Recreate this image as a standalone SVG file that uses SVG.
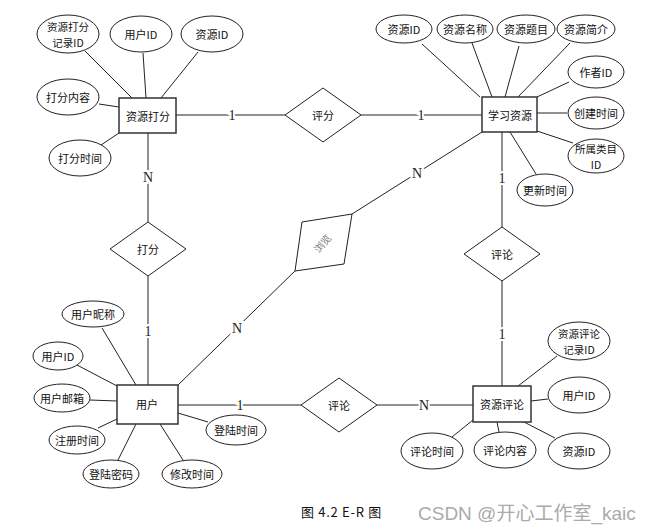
<svg xmlns="http://www.w3.org/2000/svg" width="650" height="532" viewBox="0 0 650 532">
<style>
.bg{fill:#fff}
.ent{fill:#fff;stroke:#333;stroke-width:1.5}
.rel{fill:#fff;stroke:#222;stroke-width:1}
.att{fill:#fff;stroke:#222;stroke-width:1}
.ln{stroke:#222;stroke-width:1;fill:none}
.t{font-family:"Noto Sans CJK SC","Liberation Sans",sans-serif;font-size:11px;fill:#111;text-anchor:middle;dominant-baseline:central}
.t2{font-family:"Noto Sans CJK SC","Liberation Sans",sans-serif;font-size:10.5px;fill:#111;text-anchor:middle;dominant-baseline:central}
.card{font-family:"Liberation Serif",serif;font-size:14px;fill:#222;text-anchor:middle;dominant-baseline:central;paint-order:stroke;stroke:#fff;stroke-width:4}
.cap{font-family:"Noto Sans CJK SC","Liberation Sans",sans-serif;font-size:13px;letter-spacing:0.7px;fill:#111;dominant-baseline:central}
.wm{font-family:"Liberation Sans","Noto Sans CJK SC",sans-serif;font-size:19px;fill:#aaa;dominant-baseline:central}
</style>
<rect class="bg" x="0" y="0" width="650" height="532"/>
<g id="connectors">
<line class="ln" x1="85" y1="51" x2="132" y2="98"/>
<line class="ln" x1="143" y1="53" x2="146" y2="98"/>
<line class="ln" x1="198" y1="52" x2="161" y2="98"/>
<line class="ln" x1="99" y1="104" x2="119" y2="107"/>
<line class="ln" x1="101" y1="145" x2="119" y2="133"/>
<line class="ln" x1="176" y1="115" x2="285" y2="115"/>
<line class="ln" x1="361" y1="115" x2="482" y2="115"/>
<line class="ln" x1="148" y1="133" x2="148" y2="222"/>
<line class="ln" x1="148" y1="276" x2="148" y2="385"/>
<line class="ln" x1="482" y1="132" x2="352" y2="214"/>
<line class="ln" x1="295" y1="271" x2="178" y2="385"/>
<line class="ln" x1="502" y1="132" x2="502" y2="227"/>
<line class="ln" x1="502" y1="281" x2="502" y2="386"/>
<line class="ln" x1="178" y1="405" x2="301" y2="405"/>
<line class="ln" x1="377" y1="405" x2="473" y2="405"/>
<line class="ln" x1="422" y1="44" x2="480" y2="97"/>
<line class="ln" x1="472" y1="43" x2="492" y2="97"/>
<line class="ln" x1="519" y1="46" x2="505" y2="97"/>
<line class="ln" x1="570" y1="43" x2="518" y2="97"/>
<line class="ln" x1="569" y1="82" x2="537" y2="97"/>
<line class="ln" x1="537" y1="113" x2="567" y2="113"/>
<line class="ln" x1="537" y1="131" x2="573" y2="143"/>
<line class="ln" x1="510" y1="132" x2="536" y2="174"/>
<line class="ln" x1="557" y1="356" x2="518" y2="386"/>
<line class="ln" x1="531" y1="401" x2="548" y2="399"/>
<line class="ln" x1="524" y1="422" x2="555" y2="438"/>
<line class="ln" x1="497" y1="422" x2="499" y2="432"/>
<line class="ln" x1="473" y1="420" x2="452" y2="437"/>
<line class="ln" x1="102" y1="328" x2="136" y2="385"/>
<line class="ln" x1="77" y1="365" x2="117" y2="386"/>
<line class="ln" x1="90" y1="400" x2="117" y2="401"/>
<line class="ln" x1="98" y1="428" x2="117" y2="419"/>
<line class="ln" x1="118" y1="460" x2="136" y2="424"/>
<line class="ln" x1="183" y1="460" x2="160" y2="424"/>
<line class="ln" x1="178" y1="413" x2="208" y2="422"/>
<text class="card" x="232" y="115">1</text>
<text class="card" x="421" y="115">1</text>
<text class="card" x="148" y="177">N</text>
<text class="card" x="148" y="331">1</text>
<text class="card" x="417" y="173">N</text>
<text class="card" x="237" y="328">N</text>
<text class="card" x="502" y="178">1</text>
<text class="card" x="502" y="334">1</text>
<text class="card" x="240" y="405">1</text>
<text class="card" x="424" y="405">N</text>
</g>

<g id="ziyuandafen">
<rect class="ent" x="119" y="98" width="57" height="35"/>
<text class="t" x="148" y="116">资源打分</text>
</g>
<g id="xuexiziyuan">
<rect class="ent" x="482" y="97" width="55" height="35"/>
<text class="t" x="510" y="115">学习资源</text>
</g>
<g id="yonghu">
<rect class="ent" x="117" y="385" width="61" height="39"/>
<text class="t" x="147" y="404">用户</text>
</g>
<g id="ziyuanpinglun">
<rect class="ent" x="473" y="386" width="58" height="36"/>
<text class="t" x="502" y="404">资源评论</text>
</g>

<g id="rel-pingfen">
<polygon class="rel" points="285,115 323,88 361,115 323,142"/>
<text class="t" x="323" y="115">评分</text>
</g>
<g id="rel-dafen">
<polygon class="rel" points="110,249 148,222 186,249 148,276"/>
<text class="t" x="148" y="249">打分</text>
</g>
<g id="rel-pinglun1">
<polygon class="rel" points="464,254 502,227 540,254 502,281"/>
<text class="t" x="502" y="254">评论</text>
</g>
<g id="rel-pinglun2">
<polygon class="rel" points="301,405 339,378 377,405 339,432"/>
<text class="t" x="339" y="405">评论</text>
</g>
<g id="rel-liulan">
<polygon class="rel" points="302,222 352,214 344,264 295,271"/>
<text class="t" x="322" y="243" transform="rotate(-50 322 243)" style="fill:#777;font-size:10px">浏览</text>
</g>

<g id="a-dafen-jiluid">
<ellipse class="att" cx="68" cy="34" rx="31" ry="19"/>
<text class="t2" x="68" y="26">资源打分</text>
<text class="t2" x="68" y="42">记录ID</text>
</g>
<g id="a-dafen-userid">
<ellipse class="att" cx="141" cy="34" rx="31" ry="18"/>
<text class="t" x="141" y="34">用户ID</text>
</g>
<g id="a-dafen-resid">
<ellipse class="att" cx="212" cy="34" rx="31" ry="18"/>
<text class="t" x="212" y="34">资源ID</text>
</g>
<g id="a-dafen-content">
<ellipse class="att" cx="68" cy="97" rx="31" ry="18"/>
<text class="t" x="68" y="97">打分内容</text>
</g>
<g id="a-dafen-time">
<ellipse class="att" cx="80" cy="158" rx="31" ry="18"/>
<text class="t" x="80" y="158">打分时间</text>
</g>

<g id="a-res-id">
<ellipse class="att" cx="404" cy="29" rx="28" ry="14"/>
<text class="t" x="404" y="29">资源ID</text>
</g>
<g id="a-res-name">
<ellipse class="att" cx="465" cy="29" rx="28" ry="14"/>
<text class="t" x="465" y="29">资源名称</text>
</g>
<g id="a-res-title">
<ellipse class="att" cx="526" cy="29" rx="29" ry="14"/>
<text class="t" x="526" y="29">资源题目</text>
</g>
<g id="a-res-intro">
<ellipse class="att" cx="586" cy="29" rx="29" ry="14"/>
<text class="t" x="586" y="29">资源简介</text>
</g>
<g id="a-res-author">
<ellipse class="att" cx="596" cy="72" rx="28" ry="16"/>
<text class="t" x="596" y="72">作者ID</text>
</g>
<g id="a-res-created">
<ellipse class="att" cx="596" cy="113" rx="28" ry="16"/>
<text class="t" x="596" y="113">创建时间</text>
</g>
<g id="a-res-cat">
<ellipse class="att" cx="596" cy="156" rx="28" ry="17"/>
<text class="t2" x="596" y="148">所属类目</text>
<text class="t2" x="596" y="164">ID</text>
</g>
<g id="a-res-updated">
<ellipse class="att" cx="545" cy="190" rx="28" ry="16"/>
<text class="t" x="545" y="190">更新时间</text>
</g>

<g id="a-pl-jiluid">
<ellipse class="att" cx="579" cy="341" rx="31" ry="19"/>
<text class="t2" x="579" y="333">资源评论</text>
<text class="t2" x="579" y="349">记录ID</text>
</g>
<g id="a-pl-userid">
<ellipse class="att" cx="579" cy="395" rx="31" ry="18"/>
<text class="t" x="579" y="395">用户ID</text>
</g>
<g id="a-pl-resid">
<ellipse class="att" cx="579" cy="451" rx="31" ry="18"/>
<text class="t" x="579" y="451">资源ID</text>
</g>
<g id="a-pl-content">
<ellipse class="att" cx="505" cy="450" rx="31" ry="18"/>
<text class="t" x="505" y="450">评论内容</text>
</g>
<g id="a-pl-time">
<ellipse class="att" cx="432" cy="451" rx="31" ry="18"/>
<text class="t" x="432" y="451">评论时间</text>
</g>

<g id="a-user-nick">
<ellipse class="att" cx="93" cy="314" rx="31" ry="13"/>
<text class="t" x="93" y="314">用户昵称</text>
</g>
<g id="a-user-id">
<ellipse class="att" cx="58" cy="356" rx="25" ry="14"/>
<text class="t" x="58" y="356">用户ID</text>
</g>
<g id="a-user-email">
<ellipse class="att" cx="62" cy="398" rx="28" ry="14"/>
<text class="t" x="62" y="398">用户邮箱</text>
</g>
<g id="a-user-reg">
<ellipse class="att" cx="77" cy="440" rx="28" ry="14"/>
<text class="t" x="77" y="440">注册时间</text>
</g>
<g id="a-user-pwd">
<ellipse class="att" cx="111" cy="474" rx="28" ry="14"/>
<text class="t" x="111" y="474">登陆密码</text>
</g>
<g id="a-user-mod">
<ellipse class="att" cx="192" cy="474" rx="30" ry="14"/>
<text class="t" x="192" y="474">修改时间</text>
</g>
<g id="a-user-login">
<ellipse class="att" cx="236" cy="430" rx="30" ry="15"/>
<text class="t" x="236" y="430">登陆时间</text>
</g>

<text class="cap" x="301" y="511">图 4.2 E-R 图</text>
<text class="wm" x="418" y="513">CSDN @开心工作室_kaic</text>
</svg>
